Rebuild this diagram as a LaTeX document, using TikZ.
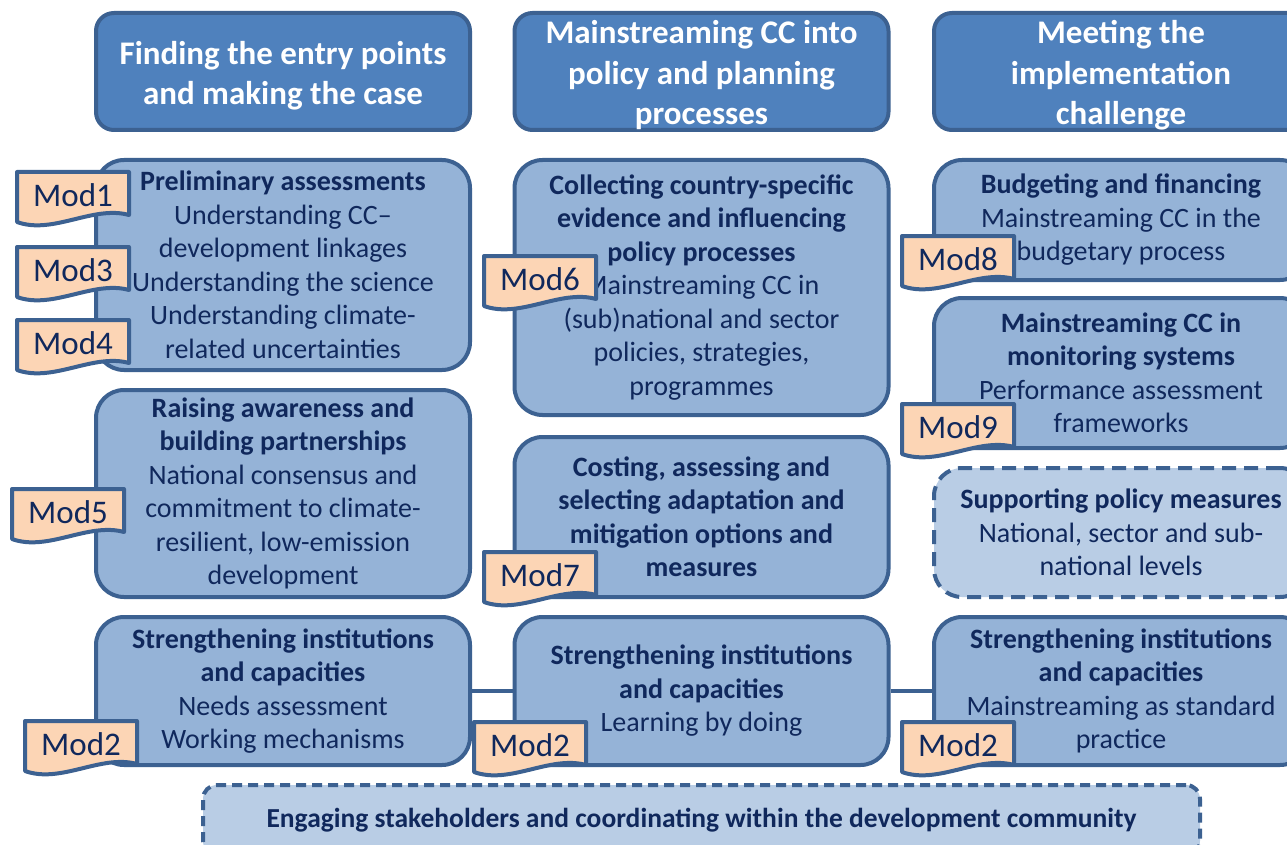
\documentclass[tikz,border=0pt]{standalone}
\usepackage{fontspec}
\setmainfont{Carlito}
\usetikzlibrary{calc}
\definecolor{hdrfill}{HTML}{4F81BD}
\definecolor{edgecol}{HTML}{3C6191}
\definecolor{boxfill}{HTML}{95B3D7}
\definecolor{lightfill}{HTML}{B9CDE5}
\definecolor{tagfill}{HTML}{FCD5B5}
\definecolor{navy}{HTML}{10285C}
\tikzset{
 hdr/.style={draw=edgecol, fill=hdrfill, line width=4pt, rounded corners=18pt, minimum width=374pt, minimum height=117pt, inner sep=0pt},
 hdrtext/.style={text=white, align=center, font=\fontsize{33}{40.5}\selectfont\bfseries, inner sep=0pt, yshift=-4pt},
 box/.style={draw=edgecol, fill=boxfill, line width=4pt, rounded corners=28pt, minimum width=374pt, align=center, text=navy, font=\fontsize{28}{33.5}\selectfont, inner sep=0pt},
 dbox/.style={box, fill=lightfill, dash pattern=on 14pt off 8pt},
 link/.style={draw=edgecol, line width=4pt},
 tagline/.style={draw=edgecol, fill=tagfill, line width=4pt, line join=round},
 tagtext/.style={text=navy, font=\fontsize{33}{36}\selectfont, inner sep=0pt},
}
\newcommand\modtag[4]{%
 \begin{scope}[shift={(#2,#3)}]
 \filldraw[tagline] (-56,-23) -- (56,-23) -- (56,20) .. controls (20,10) and (-20,40) .. (-56,27) -- cycle;
 \end{scope}
 \node[tagtext] (#1) at (#2,#3) {#4};
}
\begin{document}
\begin{tikzpicture}[x=1pt,y=-1pt]
\useasboundingbox (0,0) rectangle (1287,845);
\clip (0,0) rectangle (1287,845);
\fill[white] (0,0) rectangle (1287,845);
% headers
\node[hdr] (h1) at (283,71.5) {};
\node[hdrtext] (h1t) at (h1.center) {Finding the entry points\\and making the case};
\node[hdr] (h2) at (701.5,71.5) {};
\node[hdrtext] (h2t) at (h2.center) {Mainstreaming CC into\\policy and planning\\processes};
\node[hdr] (h3) at (1121,71.5) {};
\node[hdrtext] (h3t) at (h3.center) {Meeting the\\implementation\\challenge};
% column 1
\node[box, minimum height=210pt] (a1) at (283,265) {\textbf{Preliminary assessments}\\Understanding CC--\\development linkages\\Understanding the science\\Understanding climate-\\related uncertainties};
\node[box, minimum height=207pt] (a2) at (283,493.5) {\textbf{Raising awareness and}\\\textbf{building partnerships}\\National consensus and\\commitment to climate-\\resilient, low-emission\\development};
\node[box, minimum height=148pt] (a3) at (283,691) {\textbf{Strengthening institutions}\\\textbf{and capacities}\\Needs assessment\\Working mechanisms};
% column 2
\node[box, minimum height=255pt] (b1) at (701.5,287.5) {\textbf{Collecting country-specific}\\\textbf{evidence and influencing}\\\textbf{policy processes}\\Mainstreaming CC in\\(sub)national and sector\\policies, strategies,\\programmes};
\node[box, minimum height=160pt] (b2) at (701.5,517) {\textbf{Costing, assessing and}\\\textbf{selecting adaptation and}\\\textbf{mitigation options and}\\\textbf{measures}};
\node[box, minimum height=148pt] (b3) at (701.5,691) {\textbf{Strengthening institutions}\\\textbf{and capacities}\\Learning by doing};
% column 3
\node[box, minimum height=120pt] (c1) at (1121,220) {\textbf{Budgeting and financing}\\Mainstreaming CC in the\\budgetary process};
\node[box, minimum height=150pt] (c2) at (1121,373) {\textbf{Mainstreaming CC in}\\\textbf{monitoring systems}\\Performance assessment\\frameworks};
\node[dbox, minimum height=129pt] (c3) at (1121,532.5) {\textbf{Supporting policy measures}\\National, sector and sub-\\national levels};
\node[box, minimum height=148pt] (c4) at (1121,691) {\textbf{Strengthening institutions}\\\textbf{and capacities}\\Mainstreaming as standard\\practice};
% bottom
\node[dbox, minimum width=997pt, minimum height=70pt, rounded corners=14pt, dash pattern=on 10pt off 6pt, font=\fontsize{27.5}{30}\selectfont\bfseries] (d) at (701.5,820) {Engaging stakeholders and coordinating within the development community};
% links
\draw[link] (a3.east) -- (b3.west);
\draw[link] (b3.east) -- (c4.west);
% module tags
\modtag{m1}{73}{195}{Mod1}
\modtag{m3}{73}{270}{Mod3}
\modtag{m4}{73}{343}{Mod4}
\modtag{m5}{68}{512}{Mod5}
\modtag{m6}{540}{279}{Mod6}
\modtag{m7}{540}{575}{Mod7}
\modtag{m8}{958}{259}{Mod8}
\modtag{m9}{958}{427}{Mod9}
\modtag{m2a}{81}{744}{Mod2}
\modtag{m2b}{530}{745}{Mod2}
\modtag{m2c}{958}{745}{Mod2}
\end{tikzpicture}
\end{document}
